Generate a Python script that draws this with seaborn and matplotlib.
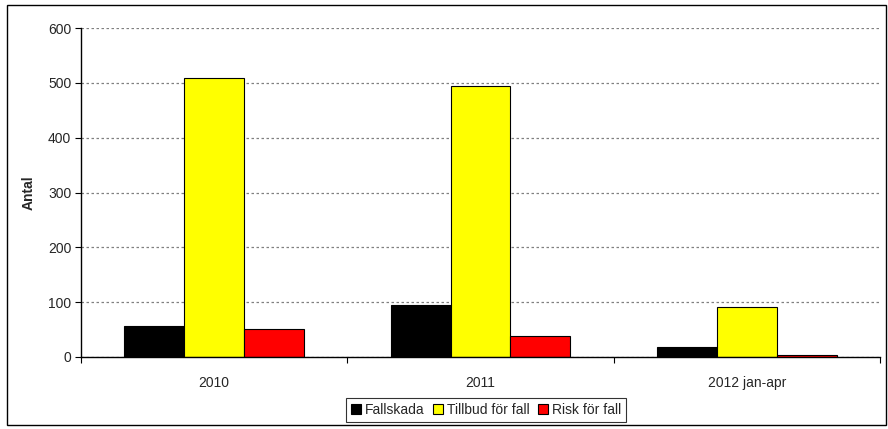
import matplotlib
matplotlib.use("Agg")
import matplotlib.pyplot as plt
import seaborn as sns
import pandas as pd
from matplotlib.patches import Rectangle, Patch

categories = ["2010", "2011", "2012 jan-apr"]
series_names = ["Fallskada", "Tillbud för fall", "Risk för fall"]
fallskada = [57, 95, 19]
tillbud = [508, 494, 92]
risk = [51, 39, 4]
colors = ["#000000", "#FFFF00", "#FF0000"]
y_ticks = [0, 100, 200, 300, 400, 500, 600]

rows = []
for name, vals in zip(series_names, [fallskada, tillbud, risk]):
    for c, v in zip(categories, vals):
        rows.append({"cat": c, "series": name, "value": v})
df = pd.DataFrame(rows)

sns.set_theme(style="white")
plt.rcParams["font.family"] = ["Liberation Sans", "DejaVu Sans"]

fig = plt.figure(figsize=(8.88, 4.29), dpi=100)
ax = fig.add_axes([81/888, 1-357/429, (880-81)/888, (357-28)/429])

sns.barplot(data=df, x="cat", y="value", hue="series", order=categories,
            hue_order=series_names, palette=colors, width=0.675,
            edgecolor="black", linewidth=0.8, saturation=1, ax=ax, legend=False)

ax.set_xlim(-0.5, 2.5)
ax.set_ylim(0, 600)
ax.set_yticks(y_ticks)
ax.set_yticklabels([str(t) for t in y_ticks], fontsize=10)
ax.yaxis.grid(True, linestyle=(0, (2, 2)), color="#808080", linewidth=0.9)
ax.set_axisbelow(True)
for s in ["top", "right"]:
    ax.spines[s].set_visible(False)
for s in ["left", "bottom"]:
    ax.spines[s].set_color("black")
    ax.spines[s].set_linewidth(1.0)

ax.set_xticks([0, 1, 2])
ax.set_xticklabels(categories, fontsize=10)
ax.set_xticks([-0.5, 0.5, 1.5, 2.5], minor=True)
ax.tick_params(axis="x", which="major", length=0, pad=14)
ax.tick_params(axis="x", which="minor", length=4, color="black", width=0.8, direction="out", bottom=True)
ax.tick_params(axis="y", which="major", length=4, color="black", width=0.8, direction="out", left=True, pad=3)
ax.set_xlabel("")
ax.set_ylabel("Antal", fontsize=10, fontweight="bold", labelpad=9)

handles = [Patch(facecolor=c, edgecolor="black", linewidth=0.8) for c in colors]
leg = fig.legend(handles, series_names, loc="center", bbox_to_anchor=(486/888, 1-410/429),
                 ncol=3, fontsize=10, frameon=True, fancybox=False, handlelength=0.7,
                 handleheight=0.7, handletextpad=0.3, columnspacing=0.6, borderpad=0.35)
leg.get_frame().set_edgecolor("black")
leg.get_frame().set_linewidth(0.8)

fig.patches.append(Rectangle((7/888, 1-425/429), (886-7)/888, (425-5)/429,
                             transform=fig.transFigure, fill=False, edgecolor="black",
                             linewidth=1.0))

fig.savefig("out.png", dpi=100)
